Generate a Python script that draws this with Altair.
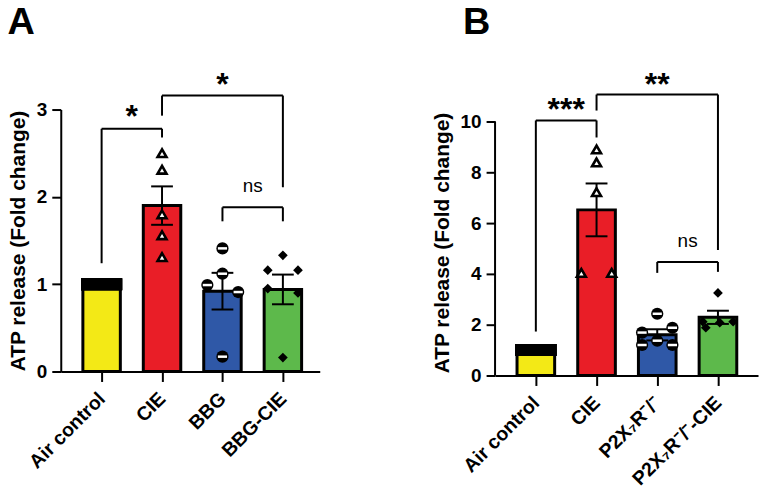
import json
import altair as alt
import pandas as pd

FONT = "Liberation Sans"

# ---------------- Panel A data ----------------
cats_a = ["Air control", "CIE", "BBG", "BBG-CIE"]
mean_a = [1.00, 1.90, 0.92, 0.94]
sem_a = [0.00, 0.22, 0.21, 0.17]
air_a = [1.0, 1.0, 1.0, 1.0, 1.0]
cie_a = [2.50, 2.31, 1.80, 1.56, 1.31]
cie_off_a = [0, 0, 0, 0, 0]
g3_a = [1.41, 1.12, 0.99, 0.91, 0.17]
g3_off_a = [0, 0, -0.25, 0.26, 0]
g4_a = [1.33, 1.16, 1.16, 0.95, 0.90, 0.16]
g4_off_a = [0, -0.25, 0.25, -0.25, 0.25, 0]
# brackets: left index, right index, left foot, top, right foot
br_i0_a = [0, 1, 2]
br_i1_a = [1, 3, 3]
br_yl_a = [1.24, 2.93, 1.72]
br_yt_a = [2.78, 3.16, 1.88]
br_yr_a = [2.68, 2.11, 1.72]
lab_a = ["*", "*", "ns"]
lab_y_a = [2.80, 3.17, 2.05]
yticks_a = [0, 1, 2, 3]

# ---------------- Panel B data ----------------
cats_b = ["Air control", "CIE", "P2X\u2087R\u207b/\u207b", "P2X\u2087R\u207b/\u207b-CIE"]
mean_b = [1.00, 6.52, 1.60, 2.29]
sem_b = [0.00, 1.04, 0.22, 0.26]
air_b = [1.0, 1.0, 1.0, 1.0, 1.0]
cie_b = [8.90, 8.39, 7.22, 4.04, 4.04]
cie_off_b = [0, 0, 0, -0.25, 0.25]
g3_b = [2.43, 1.69, 1.88, 1.37, 1.20, 1.20]
g3_off_b = [0, -0.25, 0.25, 0, -0.25, 0.25]
g4_b = [3.25, 2.12, 1.88, 2.08, 2.12]
g4_off_b = [0, -0.25, -0.20, 0.03, 0.25]
br_i0_b = [0, 1, 2]
br_i1_b = [1, 3, 3]
br_yl_b = [1.73, 10.43, 4.04]
br_yt_b = [10.04, 11.06, 4.47]
br_yr_b = [9.37, 4.94, 4.08]
lab_b = ["***", "**", "ns"]
lab_y_b = [10.04, 11.06, 5.06]
yticks_b = [0, 2, 4, 6, 8, 10]

colors = ["#F3E916", "#E91E27", "#2F58A7", "#5DB94B"]
YTITLE = "ATP release (Fold change)"


def panel(cats, means, sems, air, cie, cie_off, g3, g3_off, g4, g4_off,
          i0, i1, yl, yt, yr, labs, lab_y, yticks, ydom, xdom, width, height,
          letter, letter_dx, manual_axis):
    bars = pd.DataFrame({"cat": cats, "pos": list(range(len(cats))),
                         "mean": means, "sem": sems, "col": colors})
    bars["x0"] = bars["pos"] - 0.31
    bars["x1"] = bars["pos"] + 0.31
    bars["lo"] = bars["mean"] - bars["sem"]
    bars["hi"] = bars["mean"] + bars["sem"]
    bars["c0"] = bars["pos"] - 0.18
    bars["c1"] = bars["pos"] + 0.18
    err = bars[bars["sem"] > 0]

    def pts(vals, offs, pos):
        return pd.DataFrame({"x": [pos + o for o in offs], "v": vals})

    p_air = pd.DataFrame({"x0": [-0.34] * len(air), "x1": [0.34] * len(air), "v": air})
    p_cie = pts(cie, cie_off, 1)
    p_g3 = pts(g3, g3_off, 2)
    p_g4 = pts(g4, g4_off, 3)

    segs = []
    for a, b, l, t, r in zip(i0, i1, yl, yt, yr):
        segs.append({"x": a, "x2": a, "y": l, "y2": t})
        segs.append({"x": a, "x2": b, "y": t, "y2": t})
        segs.append({"x": b, "x2": b, "y": t, "y2": r})
    segs = pd.DataFrame(segs)
    labels = pd.DataFrame({"x": [(a + b) / 2 for a, b in zip(i0, i1)],
                           "y": lab_y, "t": labs})
    stars = labels[labels["t"] != "ns"]
    ns = labels[labels["t"] == "ns"]

    xscale = alt.Scale(domain=xdom, nice=False, zero=False)
    yscale = alt.Scale(domain=ydom, nice=False, zero=False)
    lab_expr = json.dumps(cats) + "[datum.value]"
    xaxis = alt.Axis(values=list(range(len(cats))), labelExpr=lab_expr,
                     labelAngle=-45, labelAlign="right", labelBaseline="middle",
                     labelOverlap=False, labelBound=False,
                     tickSize=10, labelPadding=14, grid=False, title=None)
    yaxis = alt.Axis(values=yticks, format="d", title=YTITLE, grid=False, tickSize=9,
                     labelPadding=5, titlePadding=8, domain=not manual_axis)

    base_bar = alt.Chart(bars).mark_bar(stroke="black", strokeWidth=3, strokeJoin="miter").encode(
        x=alt.X("x0:Q", scale=xscale, axis=xaxis),
        x2="x1:Q",
        y=alt.Y("mean:Q", scale=yscale, axis=yaxis),
        y2=alt.datum(0),
        color=alt.Color("col:N", scale=None, legend=None),
    )
    e_rule = alt.Chart(err).mark_rule(color="black", strokeWidth=2).encode(
        x="pos:Q", y="lo:Q", y2="hi:Q")
    e_cap_hi = alt.Chart(err).mark_rule(color="black", strokeWidth=2).encode(
        x="c0:Q", x2="c1:Q", y="hi:Q")
    e_cap_lo = alt.Chart(err).mark_rule(color="black", strokeWidth=2).encode(
        x="c0:Q", x2="c1:Q", y="lo:Q")
    band = alt.Chart(p_air).mark_rule(color="black", strokeWidth=12, strokeCap="butt").encode(
        x="x0:Q", x2="x1:Q", y="v:Q")
    tri = alt.Chart(p_cie).mark_point(shape="triangle-up", filled=True, fill="white",
                                       stroke="black", strokeWidth=2.6, size=80,
                                       opacity=1).encode(x="x:Q", y="v:Q")
    circ = alt.Chart(p_g3).mark_point(shape="circle", filled=True, color="black",
                                       size=150, opacity=1).encode(x="x:Q", y="v:Q")
    stripe = alt.Chart(p_g3).mark_point(shape="M-0.75,0L0.75,0", stroke="white",
                                         strokeWidth=2.5, size=150, opacity=1,
                                         filled=False).encode(x="x:Q", y="v:Q")
    dia = alt.Chart(p_g4).mark_point(shape="diamond", filled=True, color="black",
                                      size=95, opacity=1).encode(x="x:Q", y="v:Q")
    br = alt.Chart(segs).mark_rule(color="black", strokeWidth=2).encode(
        x="x:Q", x2="x2:Q", y="y:Q", y2="y2:Q")
    st = alt.Chart(stars).mark_text(font=FONT, fontWeight="bold", fontSize=32,
                                     baseline="alphabetic", color="black").encode(
        x="x:Q", y="y:Q", text="t:N")
    nt = alt.Chart(ns).mark_text(font=FONT, fontSize=19, baseline="alphabetic",
                                 color="black").encode(x="x:Q", y="y:Q", text="t:N")
    layers = [base_bar, e_rule, e_cap_hi, e_cap_lo, band, tri, circ, stripe, dia, br, st, nt]
    if manual_axis:
        ax = pd.DataFrame({"x": [xdom[0]], "y0": [yticks[0]], "y1": [yticks[-1]]})
        layers.append(alt.Chart(ax).mark_rule(color="black", strokeWidth=2).encode(
            x="x:Q", y="y0:Q", y2="y1:Q"))
    return alt.layer(*layers).properties(
        width=width, height=height,
        title=alt.TitleParams(letter, anchor="start", font=FONT, fontSize=38,
                              fontWeight="bold", dx=letter_dx, offset=27),
    )


pa = panel(cats_a, mean_a, sem_a, air_a, cie_a, cie_off_a, g3_a, g3_off_a, g4_a, g4_off_a,
           br_i0_a, br_i1_a, br_yl_a, br_yt_a, br_yr_a, lab_a, lab_y_a, yticks_a,
           [0, 3], [-0.676, 3.61], 260, 263, "A", 0, False)
pb = panel(cats_b, mean_b, sem_b, air_b, cie_b, cie_off_b, g3_b, g3_off_b, g4_b, g4_off_b,
           br_i0_b, br_i1_b, br_yl_b, br_yt_b, br_yr_b, lab_b, lab_y_b, yticks_b,
           [0, 10.47], [-0.672, 3.66], 264, 267, "B", 32, True)

chart = alt.hconcat(pa, pb, spacing=111).properties(
    padding={"left": 7, "top": 2, "right": 4, "bottom": 4}
).configure_view(stroke=None).configure_axis(
    labelFont=FONT, labelFontSize=19, labelFontWeight="bold", labelColor="black",
    titleFont=FONT, titleFontSize=21, titleFontWeight="bold", titleColor="black",
    domainColor="black", domainWidth=2, tickColor="black", tickWidth=2,
).configure_axisX(labelFontSize=19.5)

chart.save("out.html", embed_options={"renderer": "svg", "actions": False})
